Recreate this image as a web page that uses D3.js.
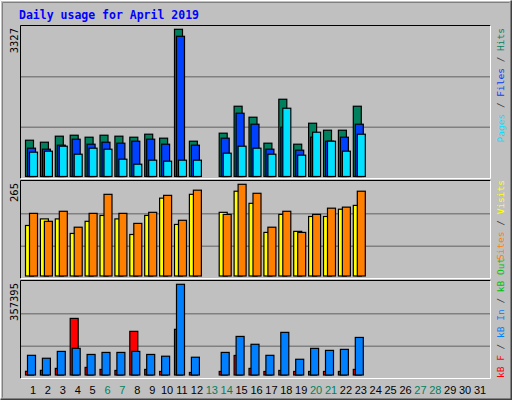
<!DOCTYPE html>
<html><head><meta charset="utf-8">
<script src="https://cdn.jsdelivr.net/npm/d3@7"></script>
<style>body{margin:0;background:#fff}svg{display:block}</style>
</head><body>
<script>
const days = d3.range(1, 32);
const weekend = [6, 7, 13, 14, 20, 21, 27, 28];
const dataDays = [1,2,3,4,5,6,7,8,9,10,11,12,13,14,15,16,17,18,19,20,21,22,23,24];
const hits  = [820,775,911,933,888,933,911,888,956,866,3327,798,0,979,1588,1340,753,1746,730,1204,1046,1046,1588,0];
const files = [640,617,708,843,730,775,753,798,843,730,3169,708,0,866,1430,1182,617,1114,595,888,798,888,1182,0];
const pages = [550,572,685,504,640,617,391,278,369,346,369,369,0,527,685,640,504,1543,482,1001,798,572,956,0];
const visits = [146,165,165,123,158,175,165,120,175,225,149,236,0,184,245,210,126,178,129,172,172,193,204,0];
const sites  = [181,158,187,141,181,236,181,152,184,233,161,248,0,178,265,239,141,187,126,178,196,199,245,0];
const kbF  = [14500,18400,26000,223000,30000,22000,18000,172000,22000,14000,180000,10000,0,14000,77000,26000,14000,18000,14000,14000,14000,14000,22000,0];
const kbIn = [77500,66000,93000,105000,81000,89000,89000,93000,81000,74000,357395,70000,0,89000,152000,121000,77500,168000,62000,105000,97000,101000,148000,0];
const kbOut = new Array(24).fill(0);
const maxTop = 3327, maxMid = 265, maxBot = 357395;

const W = 512, H = 400;
const svg = d3.select("body").append("svg").attr("width", W).attr("height", H);
svg.append("rect").attr("width", W).attr("height", H).attr("fill", "#C0C0C0");
svg.append("path").attr("d", `M0.5,${H-0.5}V0.5H${W-0.5}`).attr("stroke", "#fff").attr("fill", "none");
svg.append("path").attr("d", `M0.5,${H-0.5}H${W-0.5}V0.5`).attr("stroke", "#404040").attr("fill", "none").attr("stroke-width", 2);
svg.append("path").attr("d", `M2.5,${H-2.5}V2.5H${W-2.5}`).attr("stroke", "#808080").attr("fill", "none");

svg.append("text").attr("x", 19).attr("y", 19).text("Daily usage for April 2019")
  .attr("font-family", "DejaVu Sans Mono, monospace").attr("font-weight", "bold")
  .attr("font-size", 11.5).attr("fill", "#0000FF");

const x = d3.scaleLinear().domain([1, 31]).range([33, 480]);

const panels = [
  {top: 25, bottom: 178, y0: 176.5, y1: 29.3, max: maxTop, grids: [127.3, 76.7],
   series: [[hits, "#00805C"], [files, "#0040FF"], [pages, "#00E0FF"]], step: 2},
  {top: 180, bottom: 278, y0: 276, y1: 184.3, max: maxMid, grids: [246.3, 213.7],
   series: [[visits, "#FFFF00"], [sites, "#FF8000"]], step: 4},
  {top: 280, bottom: 378, y0: 375, y1: 284.3, max: maxBot, grids: [346.3, 313.7],
   series: [[kbF, "#FF0000"], [kbIn, "#0080FF"], [kbOut, "#00C000"]], step: 2},
];

panels.forEach(p => {
  svg.append("rect").attr("x", 20.5).attr("y", p.top + 0.5).attr("width", 470).attr("height", p.bottom - p.top)
    .attr("fill", "#C0C0C0").attr("stroke", "none");
  svg.append("path").attr("d", `M20.5,${p.bottom + 0.5}V${p.top + 0.5}H490.5`).attr("stroke", "#000").attr("fill", "none");
  svg.append("path").attr("d", `M20.5,${p.bottom + 0.5}H490.5V${p.top + 0.5}`).attr("stroke", "#fff").attr("fill", "none");
  p.grids.forEach(g => svg.append("line").attr("x1", 21).attr("x2", 490).attr("y1", g).attr("y2", g)
    .attr("stroke", "#808080").attr("stroke-width", 1.5));
  const y = d3.scaleLinear().domain([0, p.max]).range([p.y0, p.y1]);
  p.series.forEach(([vals, col], k) => {
    svg.append("g").selectAll("rect").data(dataDays).join("rect")
      .attr("x", (d) => x(d) - 8 + k * p.step + 0.5)
      .attr("y", (d, i) => y(vals[i]))
      .attr("width", 8)
      .attr("height", (d, i) => y(0) - y(vals[i]))
      .attr("fill", col).attr("stroke", "#000").attr("stroke-width", 1.2);
  });
  svg.append("text").attr("transform", `translate(18,${p.top + 3}) rotate(-90)`)
    .attr("text-anchor", "end").attr("font-family", "DejaVu Sans Mono, monospace")
    .attr("font-size", 10.5).attr("fill", "#000").text(d3.format("d")(p.max));
});

function sideLabel(parts, yPos, anchor) {
  const t = svg.append("text").attr("transform", `translate(504,${yPos}) rotate(-90)`)
    .attr("text-anchor", anchor).attr("font-family", "DejaVu Sans Mono, monospace").attr("font-size", 9.5);
  parts.forEach(([s, c]) => t.append("tspan").attr("fill", c).text(s));
}
sideLabel([["Pages", "#00E0FF"], [" / ", "#404040"], ["Files", "#0040FF"], [" / ", "#404040"], ["Hits", "#00805C"]], 28, "end");
sideLabel([["Sites", "#FF8000"], [" / ", "#404040"], ["Visits", "#FFFF00"]], 180, "end");
sideLabel([["kB F", "#FF0000"], [" / ", "#404040"], ["kB In", "#0080FF"], [" / ", "#404040"], ["kB Out", "#00C000"]], 378, "start");

svg.append("g").selectAll("text").data(days).join("text")
  .attr("x", d => x(d)).attr("y", 394).attr("text-anchor", "middle")
  .attr("font-family", "Liberation Sans, Arial, sans-serif").attr("font-size", 11)
  .attr("fill", d => weekend.includes(d) ? "#00805C" : "#000").text(d => d);
</script>
</body></html>
